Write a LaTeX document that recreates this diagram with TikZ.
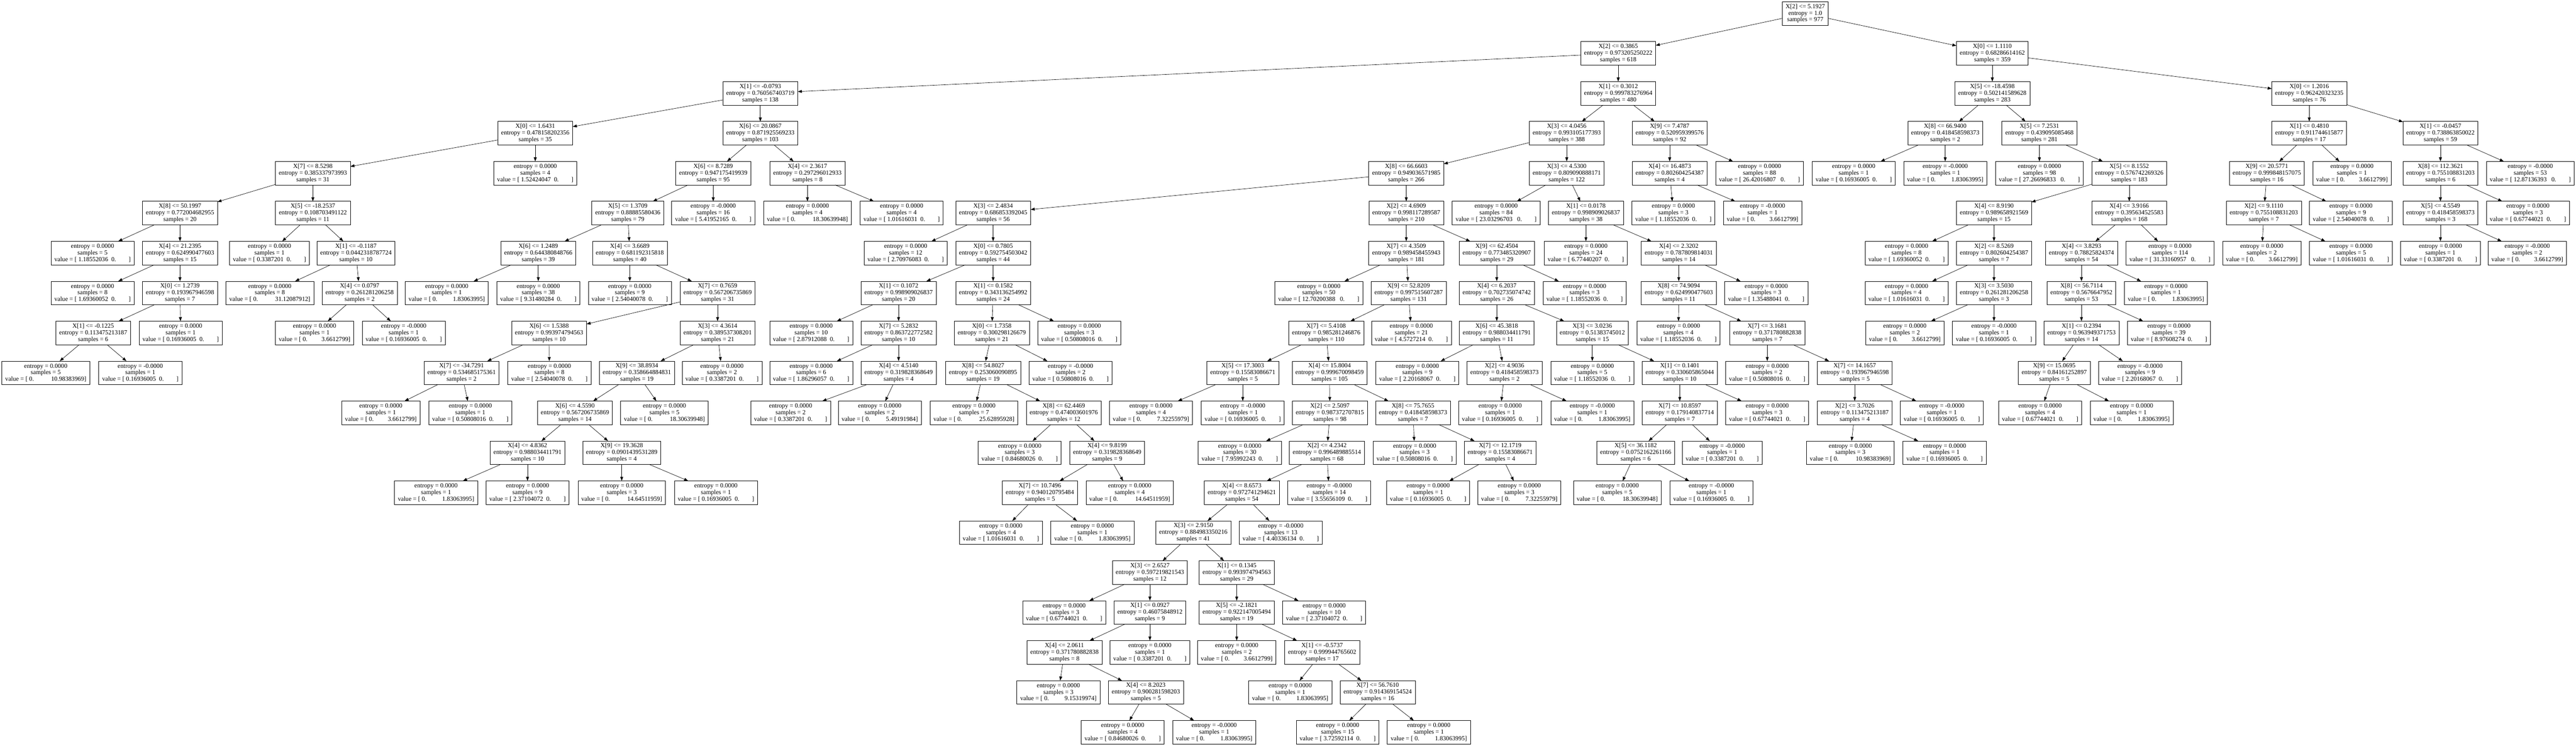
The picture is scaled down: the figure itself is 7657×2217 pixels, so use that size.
\documentclass[tikz,border=0pt]{standalone}
\usepackage{fontspec}
\setmainfont{Liberation Serif}
\usetikzlibrary{arrows.meta}
\begin{document}
\begin{tikzpicture}[x=0.75pt,y=-0.75pt,inner sep=0pt,outer sep=0pt,line width=0.75pt,
>={Triangle[length=9pt,width=6.5pt]},
treebox/.style={draw,rectangle,align=center,inner xsep=7.5pt,inner ysep=2pt,minimum height=52.5pt,font=\fontsize{14pt}{14.85pt}\selectfont}]
\useasboundingbox (0,0) rectangle (7657,2217);
\draw (5366,40) node[treebox] (n0) {X[2] <= 5.1927\\entropy = 1.0\\samples = 977};
\draw (4810,158.7) node[treebox] (n1) {X[2] <= 0.3865\\entropy = 0.973205250222\\samples = 618};
\draw (5922,158.7) node[treebox] (n2) {X[0] <= 1.1110\\entropy = 0.68286614162\\samples = 359};
\draw (2260,277.4) node[treebox] (n3) {X[1] <= -0.0793\\entropy = 0.760567403719\\samples = 138};
\draw (4810,277.4) node[treebox] (n4) {X[1] <= 0.3012\\entropy = 0.999783276964\\samples = 480};
\draw (5922,277.4) node[treebox] (n5) {X[5] <= -18.4598\\entropy = 0.502141589628\\samples = 283};
\draw (6864,277.4) node[treebox] (n6) {X[0] <= 1.2016\\entropy = 0.962420323235\\samples = 76};
\draw (1591,396.1) node[treebox] (n7) {X[0] <= 1.6431\\entropy = 0.478158202356\\samples = 35};
\draw (2260,396.1) node[treebox] (n8) {X[6] <= 20.0867\\entropy = 0.871925569233\\samples = 103};
\draw (4657,396.1) node[treebox] (n9) {X[3] <= 4.0456\\entropy = 0.993105177393\\samples = 388};
\draw (4963,396.1) node[treebox] (n10) {X[9] <= 7.4787\\entropy = 0.520959399576\\samples = 92};
\draw (5782,396.1) node[treebox] (n11) {X[8] <= 66.9400\\entropy = 0.418458598373\\samples = 2};
\draw (6062,396.1) node[treebox] (n12) {X[5] <= 7.2531\\entropy = 0.439095085468\\samples = 281};
\draw (6864,396.1) node[treebox] (n13) {X[1] <= 0.4810\\entropy = 0.911744615877\\samples = 17};
\draw (7254,396.1) node[treebox] (n14) {X[1] <= -0.0457\\entropy = 0.738863850022\\samples = 59};
\draw (930,514.8) node[treebox] (n15) {X[7] <= 8.5298\\entropy = 0.385337973993\\samples = 31};
\draw (1591,514.8) node[treebox] (n16) {entropy = 0.0000\\samples = 4\\value = [~1.52424047~~0.~~~~~~~~]};
\draw (2120,514.8) node[treebox] (n17) {X[6] <= 8.7289\\entropy = 0.947175419939\\samples = 95};
\draw (2400,514.8) node[treebox] (n18) {X[4] <= 2.3617\\entropy = 0.297296012933\\samples = 8};
\draw (4180,514.8) node[treebox] (n19) {X[8] <= 66.6603\\entropy = 0.949036571985\\samples = 266};
\draw (4657,514.8) node[treebox] (n20) {X[3] <= 4.5300\\entropy = 0.809090888171\\samples = 122};
\draw (4963,514.8) node[treebox] (n21) {X[4] <= 16.4873\\entropy = 0.802604254387\\samples = 4};
\draw (5230,514.8) node[treebox] (n22) {entropy = 0.0000\\samples = 88\\value = [~26.42016807~~~0.~~~~~~~~]};
\draw (5510,514.8) node[treebox] (n23) {entropy = 0.0000\\samples = 1\\value = [~0.16936005~~0.~~~~~~~~]};
\draw (5782,514.8) node[treebox] (n24) {entropy = -0.0000\\samples = 1\\value = [~0.~~~~~~~~~~1.83063995]};
\draw (6062,514.8) node[treebox] (n25) {entropy = 0.0000\\samples = 98\\value = [~27.26696833~~~0.~~~~~~~~]};
\draw (6329,514.8) node[treebox] (n26) {X[5] <= 8.1552\\entropy = 0.576742269326\\samples = 183};
\draw (6738,514.8) node[treebox] (n27) {X[9] <= 20.5771\\entropy = 0.999848157075\\samples = 16};
\draw (6991,514.8) node[treebox] (n28) {entropy = 0.0000\\samples = 1\\value = [~0.~~~~~~~~~3.6612799]};
\draw (7254,514.8) node[treebox] (n29) {X[8] <= 112.3621\\entropy = 0.755108831203\\samples = 6};
\draw (7521,514.8) node[treebox] (n30) {entropy = -0.0000\\samples = 53\\value = [~12.87136393~~~0.~~~~~~~~]};
\draw (535,633.5) node[treebox] (n31) {X[8] <= 50.1997\\entropy = 0.772004682955\\samples = 20};
\draw (930,633.5) node[treebox] (n32) {X[5] <= -18.2537\\entropy = 0.108703491122\\samples = 11};
\draw (1866,633.5) node[treebox] (n33) {X[5] <= 1.3709\\entropy = 0.88885580436\\samples = 79};
\draw (2120,633.5) node[treebox] (n34) {entropy = -0.0000\\samples = 16\\value = [~5.41952165~~0.~~~~~~~~]};
\draw (2400,633.5) node[treebox] (n35) {entropy = 0.0000\\samples = 4\\value = [~0.~~~~~~~~~~~18.30639948]};
\draw (2680,633.5) node[treebox] (n36) {entropy = 0.0000\\samples = 4\\value = [~1.01616031~~0.~~~~~~~~]};
\draw (2952,633.5) node[treebox] (n37) {X[3] <= 2.4834\\entropy = 0.686853392045\\samples = 56};
\draw (4180,633.5) node[treebox] (n38) {X[2] <= 4.6909\\entropy = 0.998117289587\\samples = 210};
\draw (4447,633.5) node[treebox] (n39) {entropy = 0.0000\\samples = 84\\value = [~23.03296703~~~0.~~~~~~~~]};
\draw (4714,633.5) node[treebox] (n40) {X[1] <= 0.0178\\entropy = 0.998909026837\\samples = 38};
\draw (4974,633.5) node[treebox] (n41) {entropy = 0.0000\\samples = 3\\value = [~1.18552036~~0.~~~~~~~~]};
\draw (5239,633.5) node[treebox] (n42) {entropy = -0.0000\\samples = 1\\value = [~0.~~~~~~~~~3.6612799]};
\draw (5927,633.5) node[treebox] (n43) {X[4] <= 8.9190\\entropy = 0.989658921569\\samples = 15};
\draw (6329,633.5) node[treebox] (n44) {X[4] <= 3.9166\\entropy = 0.395634525583\\samples = 168};
\draw (6729,633.5) node[treebox] (n45) {X[2] <= 9.1110\\entropy = 0.755108831203\\samples = 7};
\draw (6988,633.5) node[treebox] (n46) {entropy = 0.0000\\samples = 9\\value = [~2.54040078~~0.~~~~~~~~]};
\draw (7254,633.5) node[treebox] (n47) {X[5] <= 4.5549\\entropy = 0.418458598373\\samples = 3};
\draw (7514,633.5) node[treebox] (n48) {entropy = 0.0000\\samples = 3\\value = [~0.67744021~~0.~~~~~~~~]};
\draw (275,752.2) node[treebox] (n49) {entropy = 0.0000\\samples = 5\\value = [~1.18552036~~0.~~~~~~~~]};
\draw (535,752.2) node[treebox] (n50) {X[4] <= 21.2395\\entropy = 0.624990477603\\samples = 15};
\draw (801,752.2) node[treebox] (n51) {entropy = 0.0000\\samples = 1\\value = [~0.3387201~~0.~~~~~~~~]};
\draw (1058,752.2) node[treebox] (n52) {X[1] <= -0.1187\\entropy = 0.0442318787724\\samples = 10};
\draw (1600,752.2) node[treebox] (n53) {X[6] <= 1.2489\\entropy = 0.644380848766\\samples = 39};
\draw (1872,752.2) node[treebox] (n54) {X[4] <= 3.6689\\entropy = 0.681192315818\\samples = 40};
\draw (2692,752.2) node[treebox] (n55) {entropy = 0.0000\\samples = 12\\value = [~2.70976083~~0.~~~~~~~~]};
\draw (2952,752.2) node[treebox] (n56) {X[0] <= 0.7805\\entropy = 0.592754503042\\samples = 44};
\draw (4180,752.2) node[treebox] (n57) {X[7] <= 4.3509\\entropy = 0.989458455943\\samples = 181};
\draw (4449,752.2) node[treebox] (n58) {X[9] <= 62.4504\\entropy = 0.773485320907\\samples = 29};
\draw (4714,752.2) node[treebox] (n59) {entropy = 0.0000\\samples = 24\\value = [~6.77440207~~0.~~~~~~~~]};
\draw (4990,752.2) node[treebox] (n60) {X[4] <= 2.3202\\entropy = 0.787809814031\\samples = 14};
\draw (5667,752.2) node[treebox] (n61) {entropy = 0.0000\\samples = 8\\value = [~1.69360052~~0.~~~~~~~~]};
\draw (5927,752.2) node[treebox] (n62) {X[2] <= 8.5269\\entropy = 0.802604254387\\samples = 7};
\draw (6187,752.2) node[treebox] (n63) {X[4] <= 3.8293\\entropy = 0.78825824374\\samples = 54};
\draw (6450,752.2) node[treebox] (n64) {entropy = 0.0000\\samples = 114\\value = [~31.33160957~~~0.~~~~~~~~]};
\draw (6723,752.2) node[treebox] (n65) {entropy = 0.0000\\samples = 2\\value = [~0.~~~~~~~~~3.6612799]};
\draw (6988,752.2) node[treebox] (n66) {entropy = 0.0000\\samples = 5\\value = [~1.01616031~~0.~~~~~~~~]};
\draw (7254,752.2) node[treebox] (n67) {entropy = 0.0000\\samples = 1\\value = [~0.3387201~~0.~~~~~~~~]};
\draw (7512,752.2) node[treebox] (n68) {entropy = -0.0000\\samples = 2\\value = [~0.~~~~~~~~~3.6612799]};
\draw (275,870.9) node[treebox] (n69) {entropy = 0.0000\\samples = 8\\value = [~1.69360052~~0.~~~~~~~~]};
\draw (535,870.9) node[treebox] (n70) {X[0] <= 1.2739\\entropy = 0.193967946598\\samples = 7};
\draw (802,870.9) node[treebox] (n71) {entropy = 0.0000\\samples = 8\\value = [~0.~~~~~~~~~~~31.12087912]};
\draw (1069,870.9) node[treebox] (n72) {X[4] <= 0.0797\\entropy = 0.261281206258\\samples = 2};
\draw (1328,870.9) node[treebox] (n73) {entropy = 0.0000\\samples = 1\\value = [~0.~~~~~~~~~~1.83063995]};
\draw (1600,870.9) node[treebox] (n74) {entropy = 0.0000\\samples = 38\\value = [~9.31480284~~0.~~~~~~~~]};
\draw (1872,870.9) node[treebox] (n75) {entropy = 0.0000\\samples = 9\\value = [~2.54040078~~0.~~~~~~~~]};
\draw (2133,870.9) node[treebox] (n76) {X[7] <= 0.7659\\entropy = 0.567206735869\\samples = 31};
\draw (2671,870.9) node[treebox] (n77) {X[1] <= 0.1072\\entropy = 0.998909026837\\samples = 20};
\draw (2952,870.9) node[treebox] (n78) {X[1] <= 0.1582\\entropy = 0.343136254992\\samples = 24};
\draw (3920,870.9) node[treebox] (n79) {entropy = 0.0000\\samples = 50\\value = [~12.70200388~~~0.~~~~~~~~]};
\draw (4187,870.9) node[treebox] (n80) {X[9] <= 52.8209\\entropy = 0.997515607287\\samples = 131};
\draw (4449,870.9) node[treebox] (n81) {X[4] <= 6.2037\\entropy = 0.702735074742\\samples = 26};
\draw (4710,870.9) node[treebox] (n82) {entropy = 0.0000\\samples = 3\\value = [~1.18552036~~0.~~~~~~~~]};
\draw (4990,870.9) node[treebox] (n83) {X[8] <= 74.9094\\entropy = 0.624990477603\\samples = 11};
\draw (5250,870.9) node[treebox] (n84) {entropy = 0.0000\\samples = 3\\value = [~1.35488041~~0.~~~~~~~~]};
\draw (5667,870.9) node[treebox] (n85) {entropy = 0.0000\\samples = 4\\value = [~1.01616031~~0.~~~~~~~~]};
\draw (5927,870.9) node[treebox] (n86) {X[3] <= 3.5030\\entropy = 0.261281206258\\samples = 3};
\draw (6187,870.9) node[treebox] (n87) {X[8] <= 56.7114\\entropy = 0.5676647952\\samples = 53};
\draw (6438,870.9) node[treebox] (n88) {entropy = 0.0000\\samples = 1\\value = [~0.~~~~~~~~~~1.83063995]};
\draw (277,989.6) node[treebox] (n89) {X[1] <= -0.1225\\entropy = 0.113475213187\\samples = 6};
\draw (537,989.6) node[treebox] (n90) {entropy = 0.0000\\samples = 1\\value = [~0.16936005~~0.~~~~~~~~]};
\draw (935,989.6) node[treebox] (n91) {entropy = 0.0000\\samples = 1\\value = [~0.~~~~~~~~~3.6612799]};
\draw (1200,989.6) node[treebox] (n92) {entropy = -0.0000\\samples = 1\\value = [~0.16936005~~0.~~~~~~~~]};
\draw (1632,989.6) node[treebox] (n93) {X[6] <= 1.5388\\entropy = 0.993974794563\\samples = 10};
\draw (2133,989.6) node[treebox] (n94) {X[3] <= 4.3614\\entropy = 0.389537308201\\samples = 21};
\draw (2411,989.6) node[treebox] (n95) {entropy = 0.0000\\samples = 10\\value = [~2.87912088~~0.~~~~~~~~]};
\draw (2671,989.6) node[treebox] (n96) {X[7] <= 5.2832\\entropy = 0.863722772582\\samples = 10};
\draw (2948,989.6) node[treebox] (n97) {X[0] <= 1.7358\\entropy = 0.300298126679\\samples = 21};
\draw (3208,989.6) node[treebox] (n98) {entropy = 0.0000\\samples = 3\\value = [~0.50808016~~0.~~~~~~~~]};
\draw (3942,989.6) node[treebox] (n99) {X[7] <= 5.4108\\entropy = 0.985281246876\\samples = 110};
\draw (4195,989.6) node[treebox] (n100) {entropy = 0.0000\\samples = 21\\value = [~4.5727214~~0.~~~~~~~~]};
\draw (4449,989.6) node[treebox] (n101) {X[6] <= 45.3818\\entropy = 0.988034411791\\samples = 11};
\draw (4733,989.6) node[treebox] (n102) {X[3] <= 3.0236\\entropy = 0.51383745012\\samples = 15};
\draw (4989,989.6) node[treebox] (n103) {entropy = 0.0000\\samples = 4\\value = [~1.18552036~~0.~~~~~~~~]};
\draw (5253,989.6) node[treebox] (n104) {X[7] <= 3.1681\\entropy = 0.371780882838\\samples = 7};
\draw (5662,989.6) node[treebox] (n105) {entropy = 0.0000\\samples = 2\\value = [~0.~~~~~~~~~3.6612799]};
\draw (5927,989.6) node[treebox] (n106) {entropy = -0.0000\\samples = 1\\value = [~0.16936005~~0.~~~~~~~~]};
\draw (6187,989.6) node[treebox] (n107) {X[1] <= 0.2394\\entropy = 0.963949371753\\samples = 14};
\draw (6447,989.6) node[treebox] (n108) {entropy = 0.0000\\samples = 39\\value = [~8.97608274~~0.~~~~~~~~]};
\draw (136,1108.3) node[treebox] (n109) {entropy = 0.0000\\samples = 5\\value = [~0.~~~~~~~~~~~10.98383969]};
\draw (417,1108.3) node[treebox] (n110) {entropy = -0.0000\\samples = 1\\value = [~0.16936005~~0.~~~~~~~~]};
\draw (1372,1108.3) node[treebox] (n111) {X[7] <= -34.7291\\entropy = 0.534685175361\\samples = 2};
\draw (1633,1108.3) node[treebox] (n112) {entropy = 0.0000\\samples = 8\\value = [~2.54040078~~0.~~~~~~~~]};
\draw (1893,1108.3) node[treebox] (n113) {X[9] <= 38.8934\\entropy = 0.358664884831\\samples = 19};
\draw (2146,1108.3) node[treebox] (n114) {entropy = 0.0000\\samples = 2\\value = [~0.3387201~~0.~~~~~~~~]};
\draw (2411,1108.3) node[treebox] (n115) {entropy = 0.0000\\samples = 6\\value = [~1.86296057~~0.~~~~~~~~]};
\draw (2671,1108.3) node[treebox] (n116) {X[4] <= 4.5140\\entropy = 0.319828368649\\samples = 4};
\draw (2922,1108.3) node[treebox] (n117) {X[8] <= 54.8027\\entropy = 0.253060090895\\samples = 19};
\draw (3182,1108.3) node[treebox] (n118) {entropy = -0.0000\\samples = 2\\value = [~0.50808016~~0.~~~~~~~~]};
\draw (3694,1108.3) node[treebox] (n119) {X[5] <= 17.3003\\entropy = 0.15583086671\\samples = 5};
\draw (3952,1108.3) node[treebox] (n120) {X[4] <= 15.8004\\entropy = 0.999670098459\\samples = 105};
\draw (4213,1108.3) node[treebox] (n121) {entropy = 0.0000\\samples = 9\\value = [~2.20168067~~0.~~~~~~~~]};
\draw (4472,1108.3) node[treebox] (n122) {X[2] <= 4.9036\\entropy = 0.418458598373\\samples = 2};
\draw (4733,1108.3) node[treebox] (n123) {entropy = 0.0000\\samples = 5\\value = [~1.18552036~~0.~~~~~~~~]};
\draw (4993,1108.3) node[treebox] (n124) {X[1] <= 0.1401\\entropy = 0.330605865044\\samples = 10};
\draw (5253,1108.3) node[treebox] (n125) {entropy = 0.0000\\samples = 2\\value = [~0.50808016~~0.~~~~~~~~]};
\draw (5513,1108.3) node[treebox] (n126) {X[7] <= 14.1657\\entropy = 0.193967946598\\samples = 5};
\draw (6106,1108.3) node[treebox] (n127) {X[9] <= 15.0695\\entropy = 0.84161252897\\samples = 5};
\draw (6361,1108.3) node[treebox] (n128) {entropy = -0.0000\\samples = 9\\value = [~2.20168067~~0.~~~~~~~~]};
\draw (1132,1227) node[treebox] (n129) {entropy = 0.0000\\samples = 1\\value = [~0.~~~~~~~~~3.6612799]};
\draw (1398,1227) node[treebox] (n130) {entropy = 0.0000\\samples = 1\\value = [~0.50808016~~0.~~~~~~~~]};
\draw (1709,1227) node[treebox] (n131) {X[6] <= 4.5590\\entropy = 0.567206735869\\samples = 14};
\draw (1975,1227) node[treebox] (n132) {entropy = 0.0000\\samples = 5\\value = [~0.~~~~~~~~~~~18.30639948]};
\draw (2350,1227) node[treebox] (n133) {entropy = 0.0000\\samples = 2\\value = [~0.3387201~~0.~~~~~~~~]};
\draw (2615,1227) node[treebox] (n134) {entropy = 0.0000\\samples = 2\\value = [~0.~~~~~~~~~~5.49191984]};
\draw (2895,1227) node[treebox] (n135) {entropy = 0.0000\\samples = 7\\value = [~0.~~~~~~~~~~~25.62895928]};
\draw (3162,1227) node[treebox] (n136) {X[8] <= 62.4469\\entropy = 0.474003601976\\samples = 12};
\draw (3421,1227) node[treebox] (n137) {entropy = 0.0000\\samples = 4\\value = [~0.~~~~~~~~~~7.32255979]};
\draw (3694,1227) node[treebox] (n138) {entropy = -0.0000\\samples = 1\\value = [~0.16936005~~0.~~~~~~~~]};
\draw (3953,1227) node[treebox] (n139) {X[2] <= 2.5097\\entropy = 0.987372707815\\samples = 98};
\draw (4200,1227) node[treebox] (n140) {X[8] <= 75.7655\\entropy = 0.418458598373\\samples = 7};
\draw (4459,1227) node[treebox] (n141) {entropy = 0.0000\\samples = 1\\value = [~0.16936005~~0.~~~~~~~~]};
\draw (4733,1227) node[treebox] (n142) {entropy = -0.0000\\samples = 1\\value = [~0.~~~~~~~~~~1.83063995]};
\draw (4993,1227) node[treebox] (n143) {X[7] <= 10.8597\\entropy = 0.179140837714\\samples = 7};
\draw (5253,1227) node[treebox] (n144) {entropy = 0.0000\\samples = 3\\value = [~0.67744021~~0.~~~~~~~~]};
\draw (5513,1227) node[treebox] (n145) {X[2] <= 3.7026\\entropy = 0.113475213187\\samples = 4};
\draw (5772,1227) node[treebox] (n146) {entropy = -0.0000\\samples = 1\\value = [~0.16936005~~0.~~~~~~~~]};
\draw (6064,1227) node[treebox] (n147) {entropy = 0.0000\\samples = 4\\value = [~0.67744021~~0.~~~~~~~~]};
\draw (6336,1227) node[treebox] (n148) {entropy = 0.0000\\samples = 1\\value = [~0.~~~~~~~~~~1.83063995]};
\draw (1568,1345.7) node[treebox] (n149) {X[4] <= 4.8362\\entropy = 0.988034411791\\samples = 10};
\draw (1848,1345.7) node[treebox] (n150) {X[9] <= 19.3628\\entropy = 0.0901439531289\\samples = 4};
\draw (3031,1345.7) node[treebox] (n151) {entropy = 0.0000\\samples = 3\\value = [~0.84680026~~0.~~~~~~~~]};
\draw (3291,1345.7) node[treebox] (n152) {X[4] <= 9.8199\\entropy = 0.319828368649\\samples = 9};
\draw (3685,1345.7) node[treebox] (n153) {entropy = 0.0000\\samples = 30\\value = [~7.95992243~~0.~~~~~~~~]};
\draw (3944,1345.7) node[treebox] (n154) {X[2] <= 4.2342\\entropy = 0.996489885514\\samples = 68};
\draw (4205,1345.7) node[treebox] (n155) {entropy = 0.0000\\samples = 3\\value = [~0.50808016~~0.~~~~~~~~]};
\draw (4459,1345.7) node[treebox] (n156) {X[7] <= 12.1719\\entropy = 0.15583086671\\samples = 4};
\draw (4862,1345.7) node[treebox] (n157) {X[5] <= 36.1182\\entropy = 0.0752162261166\\samples = 6};
\draw (5119,1345.7) node[treebox] (n158) {entropy = -0.0000\\samples = 1\\value = [~0.3387201~~0.~~~~~~~~]};
\draw (5500,1345.7) node[treebox] (n159) {entropy = 0.0000\\samples = 3\\value = [~0.~~~~~~~~~~~10.98383969]};
\draw (5780,1345.7) node[treebox] (n160) {entropy = 0.0000\\samples = 1\\value = [~0.16936005~~0.~~~~~~~~]};
\draw (1296,1464.4) node[treebox] (n161) {entropy = 0.0000\\samples = 1\\value = [~0.~~~~~~~~~~1.83063995]};
\draw (1568,1464.4) node[treebox] (n162) {entropy = 0.0000\\samples = 9\\value = [~2.37104072~~0.~~~~~~~~]};
\draw (1848,1464.4) node[treebox] (n163) {entropy = 0.0000\\samples = 3\\value = [~0.~~~~~~~~~~~14.64511959]};
\draw (2128,1464.4) node[treebox] (n164) {entropy = 0.0000\\samples = 1\\value = [~0.16936005~~0.~~~~~~~~]};
\draw (3091,1464.4) node[treebox] (n165) {X[7] <= 10.7496\\entropy = 0.940120795484\\samples = 5};
\draw (3358,1464.4) node[treebox] (n166) {entropy = 0.0000\\samples = 4\\value = [~0.~~~~~~~~~~~14.64511959]};
\draw (3691,1464.4) node[treebox] (n167) {X[4] <= 8.6573\\entropy = 0.972741294621\\samples = 54};
\draw (3951,1464.4) node[treebox] (n168) {entropy = -0.0000\\samples = 14\\value = [~3.55656109~~0.~~~~~~~~]};
\draw (4245,1464.4) node[treebox] (n169) {entropy = 0.0000\\samples = 1\\value = [~0.16936005~~0.~~~~~~~~]};
\draw (4516,1464.4) node[treebox] (n170) {entropy = 0.0000\\samples = 3\\value = [~0.~~~~~~~~~~7.32255979]};
\draw (4807,1464.4) node[treebox] (n171) {entropy = 0.0000\\samples = 5\\value = [~0.~~~~~~~~~~~18.30639948]};
\draw (5087,1464.4) node[treebox] (n172) {entropy = -0.0000\\samples = 1\\value = [~0.16936005~~0.~~~~~~~~]};
\draw (2975,1583.1) node[treebox] (n173) {entropy = 0.0000\\samples = 4\\value = [~1.01616031~~0.~~~~~~~~]};
\draw (3247,1583.1) node[treebox] (n174) {entropy = 0.0000\\samples = 1\\value = [~0.~~~~~~~~~~1.83063995]};
\draw (3547,1583.1) node[treebox] (n175) {X[3] <= 2.9150\\entropy = 0.884983350216\\samples = 41};
\draw (3807,1583.1) node[treebox] (n176) {entropy = -0.0000\\samples = 13\\value = [~4.40336134~~0.~~~~~~~~]};
\draw (3418,1701.8) node[treebox] (n177) {X[3] <= 2.6527\\entropy = 0.597219821543\\samples = 12};
\draw (3676,1701.8) node[treebox] (n178) {X[1] <= 0.1345\\entropy = 0.993974794563\\samples = 29};
\draw (3163,1820.5) node[treebox] (n179) {entropy = 0.0000\\samples = 3\\value = [~0.67744021~~0.~~~~~~~~]};
\draw (3418,1820.5) node[treebox] (n180) {X[1] <= 0.0927\\entropy = 0.46075848912\\samples = 9};
\draw (3676,1820.5) node[treebox] (n181) {X[5] <= -2.1821\\entropy = 0.922147005494\\samples = 19};
\draw (3936,1820.5) node[treebox] (n182) {entropy = 0.0000\\samples = 10\\value = [~2.37104072~~0.~~~~~~~~]};
\draw (3164,1939.2) node[treebox] (n183) {X[4] <= 2.0611\\entropy = 0.371780882838\\samples = 8};
\draw (3418,1939.2) node[treebox] (n184) {entropy = 0.0000\\samples = 1\\value = [~0.3387201~~0.~~~~~~~~]};
\draw (3676,1939.2) node[treebox] (n185) {entropy = 0.0000\\samples = 2\\value = [~0.~~~~~~~~~3.6612799]};
\draw (3930,1939.2) node[treebox] (n186) {X[1] <= -0.5737\\entropy = 0.999944765602\\samples = 17};
\draw (3146,2057.9) node[treebox] (n187) {entropy = 0.0000\\samples = 3\\value = [~0.~~~~~~~~~~9.15319974]};
\draw (3406,2057.9) node[treebox] (n188) {X[4] <= 8.2023\\entropy = 0.900281598203\\samples = 5};
\draw (3835,2057.9) node[treebox] (n189) {entropy = 0.0000\\samples = 1\\value = [~0.~~~~~~~~~~1.83063995]};
\draw (4095,2057.9) node[treebox] (n190) {X[7] <= 56.7610\\entropy = 0.914369154524\\samples = 16};
\draw (3337,2176.6) node[treebox] (n191) {entropy = 0.0000\\samples = 4\\value = [~0.84680026~~0.~~~~~~~~]};
\draw (3609,2176.6) node[treebox] (n192) {entropy = -0.0000\\samples = 1\\value = [~0.~~~~~~~~~~1.83063995]};
\draw (3976,2176.6) node[treebox] (n193) {entropy = 0.0000\\samples = 15\\value = [~3.72592114~~0.~~~~~~~~]};
\draw (4247,2176.6) node[treebox] (n194) {entropy = 0.0000\\samples = 1\\value = [~0.~~~~~~~~~~1.83063995]};
\draw[->] (n0) -- (n1); \draw[->] (n0) -- (n2);
\draw[->] (n1) -- (n3); \draw[->] (n1) -- (n4);
\draw[->] (n2) -- (n5); \draw[->] (n2) -- (n6);
\draw[->] (n3) -- (n7); \draw[->] (n3) -- (n8);
\draw[->] (n4) -- (n9); \draw[->] (n4) -- (n10);
\draw[->] (n5) -- (n11); \draw[->] (n5) -- (n12);
\draw[->] (n6) -- (n13); \draw[->] (n6) -- (n14);
\draw[->] (n7) -- (n15); \draw[->] (n7) -- (n16);
\draw[->] (n8) -- (n17); \draw[->] (n8) -- (n18);
\draw[->] (n9) -- (n19); \draw[->] (n9) -- (n20);
\draw[->] (n10) -- (n21); \draw[->] (n10) -- (n22);
\draw[->] (n11) -- (n23); \draw[->] (n11) -- (n24);
\draw[->] (n12) -- (n25); \draw[->] (n12) -- (n26);
\draw[->] (n13) -- (n27); \draw[->] (n13) -- (n28);
\draw[->] (n14) -- (n29); \draw[->] (n14) -- (n30);
\draw[->] (n15) -- (n31); \draw[->] (n15) -- (n32);
\draw[->] (n17) -- (n33); \draw[->] (n17) -- (n34);
\draw[->] (n18) -- (n35); \draw[->] (n18) -- (n36);
\draw[->] (n19) -- (n37); \draw[->] (n19) -- (n38);
\draw[->] (n20) -- (n39); \draw[->] (n20) -- (n40);
\draw[->] (n21) -- (n41); \draw[->] (n21) -- (n42);
\draw[->] (n26) -- (n43); \draw[->] (n26) -- (n44);
\draw[->] (n27) -- (n45); \draw[->] (n27) -- (n46);
\draw[->] (n29) -- (n47); \draw[->] (n29) -- (n48);
\draw[->] (n31) -- (n49); \draw[->] (n31) -- (n50);
\draw[->] (n32) -- (n51); \draw[->] (n32) -- (n52);
\draw[->] (n33) -- (n53); \draw[->] (n33) -- (n54);
\draw[->] (n37) -- (n55); \draw[->] (n37) -- (n56);
\draw[->] (n38) -- (n57); \draw[->] (n38) -- (n58);
\draw[->] (n40) -- (n59); \draw[->] (n40) -- (n60);
\draw[->] (n43) -- (n61); \draw[->] (n43) -- (n62);
\draw[->] (n44) -- (n63); \draw[->] (n44) -- (n64);
\draw[->] (n45) -- (n65); \draw[->] (n45) -- (n66);
\draw[->] (n47) -- (n67); \draw[->] (n47) -- (n68);
\draw[->] (n50) -- (n69); \draw[->] (n50) -- (n70);
\draw[->] (n52) -- (n71); \draw[->] (n52) -- (n72);
\draw[->] (n53) -- (n73); \draw[->] (n53) -- (n74);
\draw[->] (n54) -- (n75); \draw[->] (n54) -- (n76);
\draw[->] (n56) -- (n77); \draw[->] (n56) -- (n78);
\draw[->] (n57) -- (n79); \draw[->] (n57) -- (n80);
\draw[->] (n58) -- (n81); \draw[->] (n58) -- (n82);
\draw[->] (n60) -- (n83); \draw[->] (n60) -- (n84);
\draw[->] (n62) -- (n85); \draw[->] (n62) -- (n86);
\draw[->] (n63) -- (n87); \draw[->] (n63) -- (n88);
\draw[->] (n70) -- (n89); \draw[->] (n70) -- (n90);
\draw[->] (n72) -- (n91); \draw[->] (n72) -- (n92);
\draw[->] (n76) -- (n93); \draw[->] (n76) -- (n94);
\draw[->] (n77) -- (n95); \draw[->] (n77) -- (n96);
\draw[->] (n78) -- (n97); \draw[->] (n78) -- (n98);
\draw[->] (n80) -- (n99); \draw[->] (n80) -- (n100);
\draw[->] (n81) -- (n101); \draw[->] (n81) -- (n102);
\draw[->] (n83) -- (n103); \draw[->] (n83) -- (n104);
\draw[->] (n86) -- (n105); \draw[->] (n86) -- (n106);
\draw[->] (n87) -- (n107); \draw[->] (n87) -- (n108);
\draw[->] (n89) -- (n109); \draw[->] (n89) -- (n110);
\draw[->] (n93) -- (n111); \draw[->] (n93) -- (n112);
\draw[->] (n94) -- (n113); \draw[->] (n94) -- (n114);
\draw[->] (n96) -- (n115); \draw[->] (n96) -- (n116);
\draw[->] (n97) -- (n117); \draw[->] (n97) -- (n118);
\draw[->] (n99) -- (n119); \draw[->] (n99) -- (n120);
\draw[->] (n101) -- (n121); \draw[->] (n101) -- (n122);
\draw[->] (n102) -- (n123); \draw[->] (n102) -- (n124);
\draw[->] (n104) -- (n125); \draw[->] (n104) -- (n126);
\draw[->] (n107) -- (n127); \draw[->] (n107) -- (n128);
\draw[->] (n111) -- (n129); \draw[->] (n111) -- (n130);
\draw[->] (n113) -- (n131); \draw[->] (n113) -- (n132);
\draw[->] (n116) -- (n133); \draw[->] (n116) -- (n134);
\draw[->] (n117) -- (n135); \draw[->] (n117) -- (n136);
\draw[->] (n119) -- (n137); \draw[->] (n119) -- (n138);
\draw[->] (n120) -- (n139); \draw[->] (n120) -- (n140);
\draw[->] (n122) -- (n141); \draw[->] (n122) -- (n142);
\draw[->] (n124) -- (n143); \draw[->] (n124) -- (n144);
\draw[->] (n126) -- (n145); \draw[->] (n126) -- (n146);
\draw[->] (n127) -- (n147); \draw[->] (n127) -- (n148);
\draw[->] (n131) -- (n149); \draw[->] (n131) -- (n150);
\draw[->] (n136) -- (n151); \draw[->] (n136) -- (n152);
\draw[->] (n139) -- (n153); \draw[->] (n139) -- (n154);
\draw[->] (n140) -- (n155); \draw[->] (n140) -- (n156);
\draw[->] (n143) -- (n157); \draw[->] (n143) -- (n158);
\draw[->] (n145) -- (n159); \draw[->] (n145) -- (n160);
\draw[->] (n149) -- (n161); \draw[->] (n149) -- (n162);
\draw[->] (n150) -- (n163); \draw[->] (n150) -- (n164);
\draw[->] (n152) -- (n165); \draw[->] (n152) -- (n166);
\draw[->] (n154) -- (n167); \draw[->] (n154) -- (n168);
\draw[->] (n156) -- (n169); \draw[->] (n156) -- (n170);
\draw[->] (n157) -- (n171); \draw[->] (n157) -- (n172);
\draw[->] (n165) -- (n173); \draw[->] (n165) -- (n174);
\draw[->] (n167) -- (n175); \draw[->] (n167) -- (n176);
\draw[->] (n175) -- (n177); \draw[->] (n175) -- (n178);
\draw[->] (n177) -- (n179); \draw[->] (n177) -- (n180);
\draw[->] (n178) -- (n181); \draw[->] (n178) -- (n182);
\draw[->] (n180) -- (n183); \draw[->] (n180) -- (n184);
\draw[->] (n181) -- (n185); \draw[->] (n181) -- (n186);
\draw[->] (n183) -- (n187); \draw[->] (n183) -- (n188);
\draw[->] (n186) -- (n189); \draw[->] (n186) -- (n190);
\draw[->] (n188) -- (n191); \draw[->] (n188) -- (n192);
\draw[->] (n190) -- (n193); \draw[->] (n190) -- (n194);
\end{tikzpicture}
\end{document}
